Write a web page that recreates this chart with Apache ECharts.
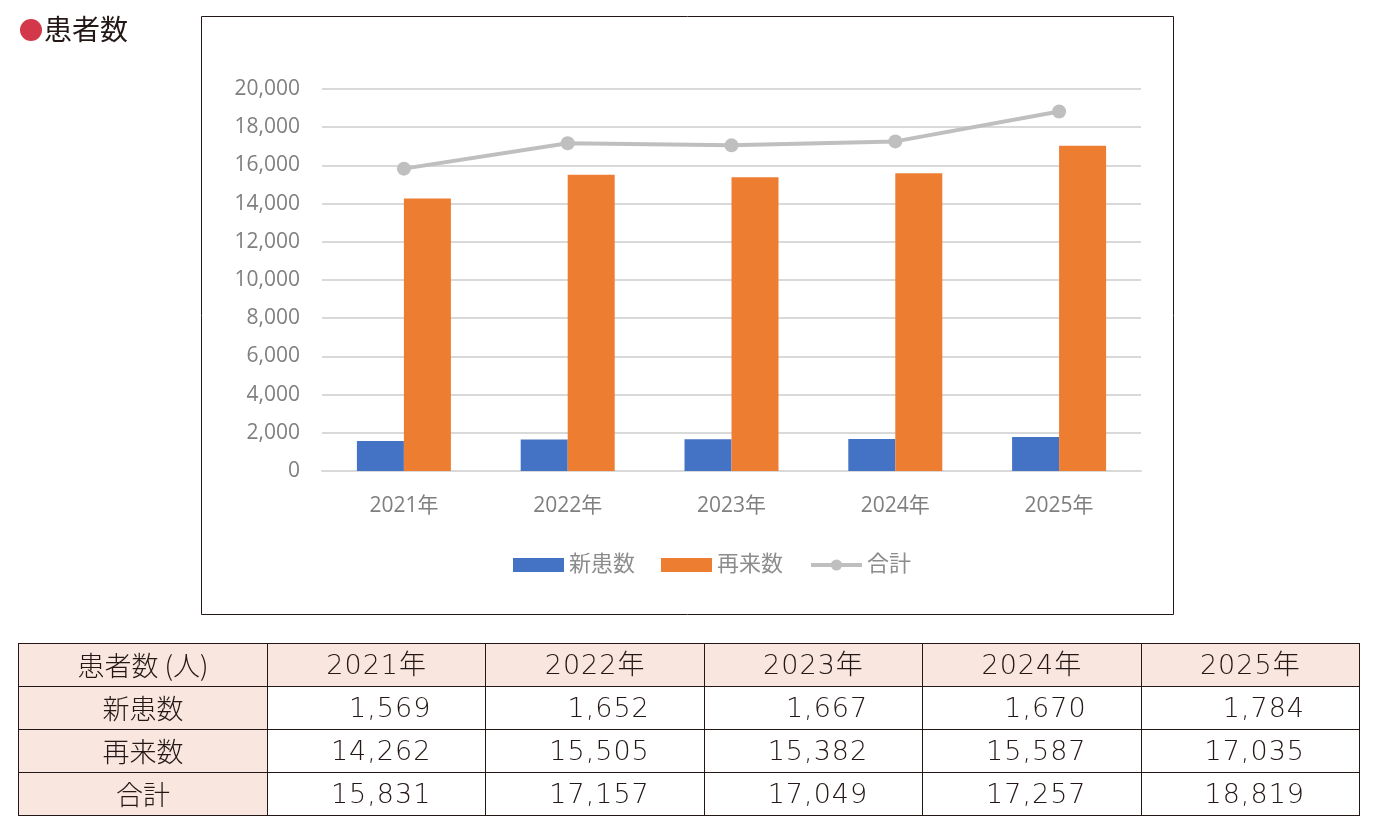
<!DOCTYPE html>
<html><head><meta charset="utf-8">
<script src="https://cdn.jsdelivr.net/npm/echarts@6/dist/echarts.min.js"></script>
<style>
html,body{margin:0;padding:0;background:#fff;}
#chart{position:absolute;left:0;top:0;width:1383px;height:830px;}
#tbl{position:absolute;left:18px;top:643px;width:1342px;border-collapse:collapse;table-layout:fixed;
 font-family:"DejaVu Sans","Noto Sans CJK JP",sans-serif;font-size:27px;color:#231815;font-weight:200;}
#tbl td{border:1px solid #231815;height:42px;padding:0;line-height:42px;text-align:center;letter-spacing:1px;}
#tbl td.num{text-align:right;padding-right:54px;}
#tbl td.hd{background:#f8e6df;}
#tbl td.lab{font-family:"Noto Sans CJK JP",sans-serif;font-size:27px;font-weight:300;letter-spacing:0;}
</style></head><body>
<div id="chart"></div>
<table id="tbl"></table>
<script>
const categories = ['2021年','2022年','2023年','2024年','2025年'];
const newPatients = [1569, 1652, 1667, 1670, 1784];
const returnPatients = [14262, 15505, 15382, 15587, 17035];
const totals = [15831, 17157, 17049, 17257, 18819];
const seriesNames = ['新患数','再来数','合計'];
const tableHeader = '患者数 (人)';

const fmt = v => v.toLocaleString('en-US');
const font = '"Open Sans","Noto Sans CJK JP",sans-serif';
const chart = echarts.init(document.getElementById('chart'));
chart.setOption({
  animation:false,
  graphic:[
    {type:'rect',shape:{x:201.5,y:16.5,width:972,height:598},style:{fill:'none',stroke:'#231815',lineWidth:1}},
    {type:'circle',shape:{cx:31,cy:30,r:11},style:{fill:'#d3384a'}},
    {type:'text',left:44,top:15,style:{text:'患者数',fontSize:28,fill:'#231815',fontFamily:'"Noto Sans CJK JP",sans-serif'}}
  ],
  grid:{left:322,right:242,top:89,bottom:359,containLabel:false},
  legend:{
    data:[
      {name:seriesNames[0],icon:'rect'},
      {name:seriesNames[1],icon:'rect'},
      {name:seriesNames[2],lineStyle:{width:4,color:'#bfbfbf'},itemStyle:{color:'#bfbfbf'}}
    ],
    top:549, left:508, itemWidth:51, itemHeight:14, itemGap:26,
    textStyle:{fontSize:22,color:'#8c8c8c',fontFamily:font}
  },
  xAxis:{type:'category',data:categories,
    axisLine:{lineStyle:{color:'#d9d9d9',width:2}},axisTick:{show:false},
    axisLabel:{fontSize:21,color:'#7f7f7f',margin:25,fontFamily:font}},
  yAxis:{type:'value',min:0,max:20000,interval:2000,
    axisLine:{show:false},axisTick:{show:false},
    splitLine:{lineStyle:{color:'#d9d9d9',width:2}},
    axisLabel:{fontSize:21,color:'#7f7f7f',margin:22,fontFamily:font,formatter:v=>fmt(v)}},
  series:[
    {name:seriesNames[0],type:'bar',data:newPatients,barWidth:47,barGap:'0%',itemStyle:{color:'#4472c4'}},
    {name:seriesNames[1],type:'bar',data:returnPatients,barWidth:47,barGap:'0%',itemStyle:{color:'#ed7d31'}},
    {name:seriesNames[2],type:'line',data:totals,symbol:'circle',symbolSize:14,
     lineStyle:{color:'#bfbfbf',width:4},itemStyle:{color:'#bfbfbf'}}
  ]
});

const tbl = document.getElementById('tbl');
let html = '<colgroup><col style="width:249px">' + categories.map(()=>'<col>').join('') + '</colgroup>';
html += '<tr><td class="hd lab">'+tableHeader+'</td>' + categories.map(c=>'<td class="hd">'+c+'</td>').join('') + '</tr>';
[[seriesNames[0],newPatients],[seriesNames[1],returnPatients],[seriesNames[2],totals]].forEach(([n,arr])=>{
  html += '<tr><td class="hd lab">'+n+'</td>' + arr.map(v=>'<td class="num">'+fmt(v)+'</td>').join('') + '</tr>';
});
tbl.innerHTML = html;
</script>
</body></html>
